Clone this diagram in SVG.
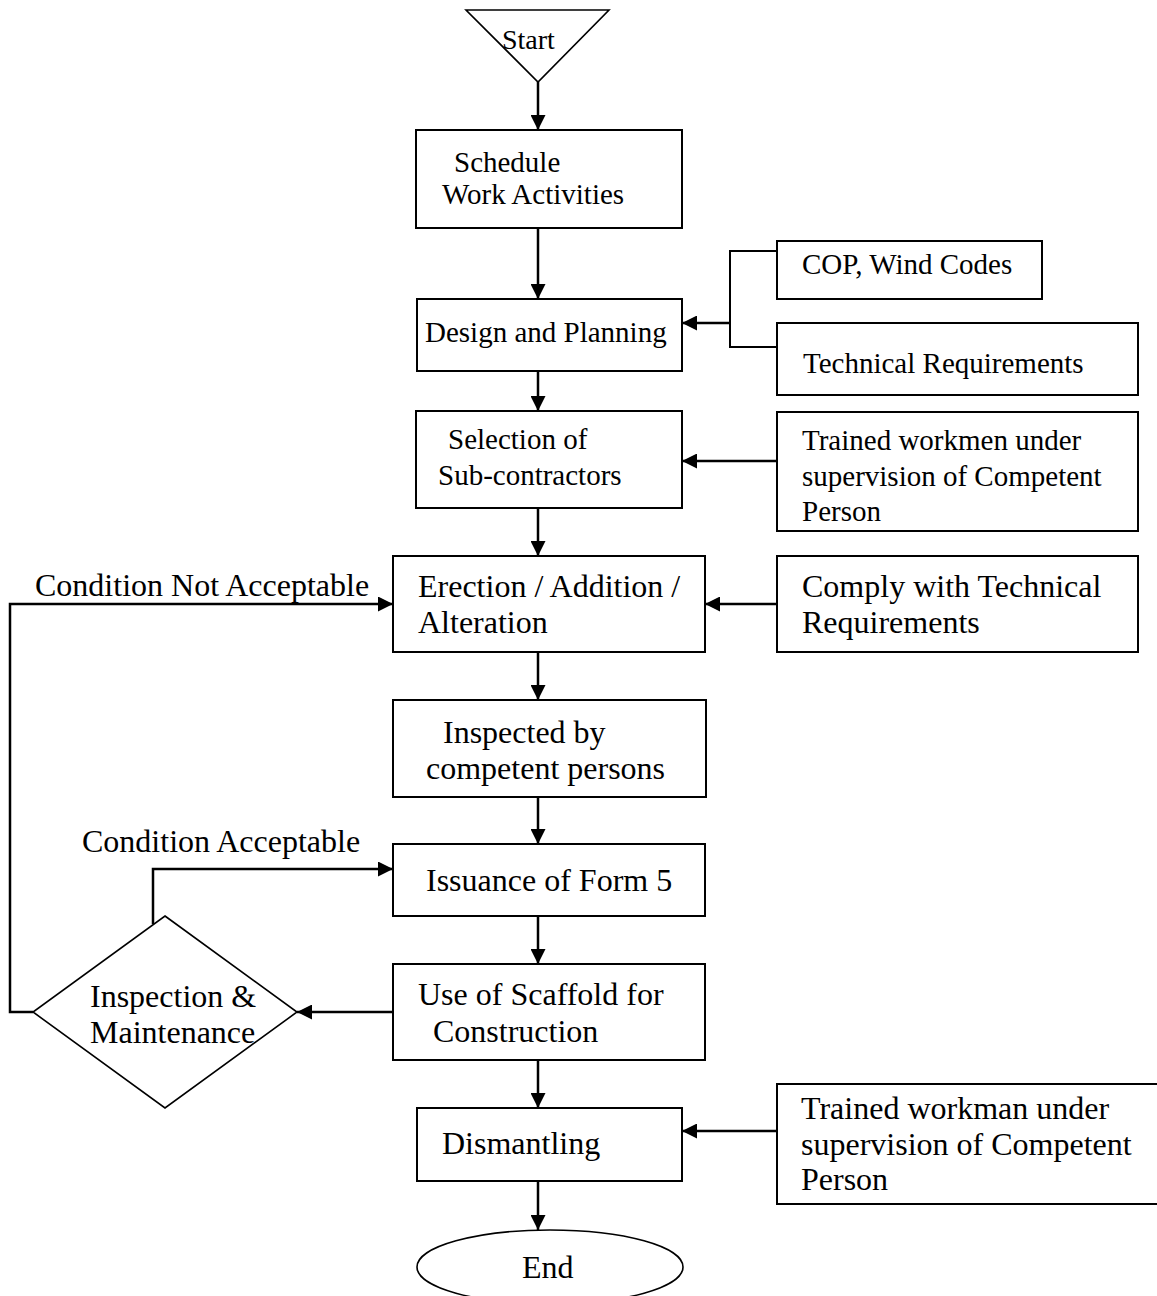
<svg xmlns="http://www.w3.org/2000/svg" width="1157" height="1296" viewBox="0 0 1157 1296">
<style>
.box{fill:#fff;stroke:#000;stroke-width:2}
.shape{fill:#fff;stroke:#000;stroke-width:1.6}
.t{font-family:"Liberation Serif","Times New Roman",serif;fill:#000}
.s{font-size:29px}
.b{font-size:32px}
.c{fill:none;stroke:#000;stroke-width:2.5}
.thin{fill:none;stroke:#000;stroke-width:2}
</style>
<defs>
<marker id="arr" markerUnits="userSpaceOnUse" markerWidth="15" markerHeight="15" refX="15" refY="7.5" orient="auto">
<path d="M0,0 L15,7.5 L0,15 z" fill="#000"/>
</marker>
</defs>
<rect width="1157" height="1296" fill="#fff"/>
<g id="connectors">
<path class="c" d="M538,82 V130" marker-end="url(#arr)"/>
<path class="c" d="M538,228 V299" marker-end="url(#arr)"/>
<path class="thin" d="M777,251 H730 V347 H777"/>
<path class="c" d="M730,323 H682" marker-end="url(#arr)"/>
<path class="c" d="M538,371 V411" marker-end="url(#arr)"/>
<path class="c" d="M777,461 H682" marker-end="url(#arr)"/>
<path class="c" d="M538,508 V556" marker-end="url(#arr)"/>
<path class="c" d="M777,604 H705" marker-end="url(#arr)"/>
<path class="c" d="M33,1012 H10 V604 H393" marker-end="url(#arr)"/>
<path class="c" d="M538,652 V700" marker-end="url(#arr)"/>
<path class="c" d="M538,797 V844" marker-end="url(#arr)"/>
<path class="c" d="M153,924 V869 H393" marker-end="url(#arr)"/>
<path class="c" d="M538,916 V964" marker-end="url(#arr)"/>
<path class="c" d="M393,1012 H297" marker-end="url(#arr)"/>
<path class="c" d="M538,1060 V1108" marker-end="url(#arr)"/>
<path class="c" d="M777,1131 H682" marker-end="url(#arr)"/>
<path class="c" d="M538,1181 V1230" marker-end="url(#arr)"/>
</g>
<g id="start">
<polygon class="shape" points="466,10 609,10 538,82"/>
<text class="t" x="502" y="49" font-size="28">Start</text>
</g>
<g id="schedule">
<rect class="box" x="416" y="130" width="266" height="98"/>
<text class="t s" x="454" y="172">Schedule</text>
<text class="t s" x="442" y="204">Work Activities</text>
</g>
<g id="design">
<rect class="box" x="417" y="299" width="265" height="72"/>
<text class="t s" x="425" y="342">Design and Planning</text>
</g>
<g id="cop">
<rect class="box" x="777" y="241" width="265" height="58"/>
<text class="t s" x="802" y="274">COP, Wind Codes</text>
</g>
<g id="technical">
<rect class="box" x="777" y="323" width="361" height="72"/>
<text class="t s" x="803" y="373">Technical Requirements</text>
</g>
<g id="selection">
<rect class="box" x="416" y="411" width="266" height="97"/>
<text class="t s" x="448" y="449">Selection of</text>
<text class="t s" x="438" y="485">Sub-contractors</text>
</g>
<g id="trained-workmen">
<rect class="box" x="777" y="412" width="361" height="119"/>
<text class="t s" x="802" y="450">Trained workmen under</text>
<text class="t s" x="802" y="486">supervision of Competent</text>
<text class="t s" x="802" y="521">Person</text>
</g>
<g id="erection">
<rect class="box" x="393" y="556" width="312" height="96"/>
<text class="t b" x="418" y="597">Erection / Addition /</text>
<text class="t b" x="418" y="633">Alteration</text>
</g>
<g id="comply">
<rect class="box" x="777" y="556" width="361" height="96"/>
<text class="t b" x="802" y="597">Comply with Technical</text>
<text class="t b" x="802" y="633">Requirements</text>
</g>
<g id="label-not-acceptable">
<text class="t b" x="35" y="596">Condition Not Acceptable</text>
</g>
<g id="inspected">
<rect class="box" x="393" y="700" width="313" height="97"/>
<text class="t b" x="443" y="743">Inspected by</text>
<text class="t b" x="426" y="779">competent persons</text>
</g>
<g id="label-acceptable">
<text class="t b" x="82" y="852">Condition Acceptable</text>
</g>
<g id="issuance">
<rect class="box" x="393" y="844" width="312" height="72"/>
<text class="t b" x="426" y="891">Issuance of Form 5</text>
</g>
<g id="inspection">
<polygon class="shape" points="165,916 297,1012 165,1108 33,1012"/>
<text class="t b" x="90" y="1007">Inspection &amp;</text>
<text class="t b" x="90" y="1043">Maintenance</text>
</g>
<g id="use">
<rect class="box" x="393" y="964" width="312" height="96"/>
<text class="t b" x="418" y="1005">Use of Scaffold for</text>
<text class="t b" x="433" y="1042">Construction</text>
</g>
<g id="dismantling">
<rect class="box" x="417" y="1108" width="265" height="73"/>
<text class="t b" x="442" y="1154">Dismantling</text>
</g>
<g id="trained-workman">
<rect class="box" x="777" y="1084" width="400" height="120"/>
<text class="t b" x="801" y="1119">Trained workman under</text>
<text class="t b" x="801" y="1155">supervision of Competent</text>
<text class="t b" x="801" y="1190">Person</text>
</g>
<g id="end">
<ellipse class="shape" cx="550" cy="1267" rx="133" ry="37"/>
<text class="t b" x="522" y="1278">End</text>
</g>
</svg>
